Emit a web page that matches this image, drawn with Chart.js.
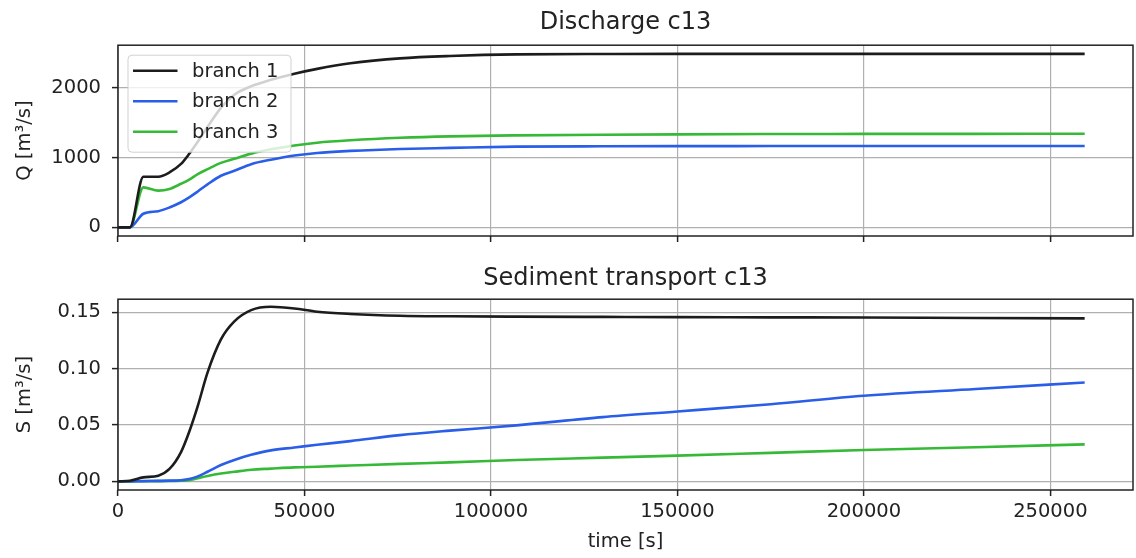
<!DOCTYPE html>
<html>
<head>
<meta charset="utf-8">
<title>Discharge and sediment transport c13</title>
<script src="https://cdn.jsdelivr.net/npm/chart.js@4.4.1/dist/chart.umd.min.js"></script>
<style>
  body { margin: 0; background: #fff; }
  canvas { position: absolute; left: 0; }
  #discharge { top: 0; }
  #sediment { top: 250px; }
</style>
</head>
<body>
<canvas id="discharge" width="1136" height="250"></canvas>
<canvas id="sediment" width="1136" height="308"></canvas>
<script>
// time axis [s], shared by both panels
const times = [0, 3200, 6800, 10800, 13800, 16900, 19100, 21400, 24000, 27600, 31200, 35700,
  41000, 47300, 53400, 62300, 75600, 89000, 106800, 130000, 150000, 175000, 200000, 230000, 259200];

const branchLabels = ['branch 1', 'branch 2', 'branch 3'];
const branchColors = ['#1c1c1c', '#2a5ee8', '#36b936'];

// discharge Q [m3/s]
const q1 = [0, 0, 726, 726, 788, 910, 1055, 1230, 1440, 1714, 1904, 2025,
  2118, 2205, 2275, 2355, 2426, 2460, 2483, 2488, 2490, 2490, 2490, 2490, 2490];
const q2 = [0, 0, 195, 232, 285, 360, 430, 515, 617, 740, 812, 907,
  970, 1030, 1068, 1097, 1125, 1140, 1158, 1163, 1165, 1167, 1168, 1168, 1168];
const q3 = [0, 0, 574, 527, 550, 625, 685, 765, 835, 925, 985, 1058,
  1120, 1175, 1215, 1250, 1285, 1306, 1320, 1330, 1335, 1339, 1341, 1342, 1343];

// sediment transport S [m3/s]
const s1 = [0, 0.0005, 0.0035, 0.005, 0.011, 0.026, 0.044, 0.067, 0.0965, 0.126, 0.142, 0.152,
  0.155, 0.1535, 0.1506, 0.1486, 0.147, 0.1465, 0.1462, 0.146, 0.1458, 0.1456, 0.1454, 0.145, 0.1447];
const s2 = [0, 0, 0.0002, 0.0004, 0.0006, 0.001, 0.002, 0.0044, 0.0085, 0.0145, 0.019, 0.0235,
  0.0275, 0.030, 0.0325, 0.0357, 0.041, 0.045, 0.0497, 0.057, 0.062, 0.0685, 0.076, 0.082, 0.0877];
const s3 = [0, 0, 0.0001, 0.0002, 0.0003, 0.0006, 0.001, 0.0028, 0.0048, 0.007, 0.0085, 0.0103,
  0.0113, 0.0124, 0.013, 0.014, 0.0155, 0.0168, 0.019, 0.021, 0.0228, 0.0253, 0.0278, 0.0303, 0.0328];

// tick values
const xTickValues = [0, 50000, 100000, 150000, 200000, 250000];
const qTickValues = [0, 1000, 2000];
const sTickValues = [0, 0.05, 0.10, 0.15];

Chart.defaults.font.family = "'DejaVu Sans'";
Chart.defaults.font.size = 19.5;
Chart.defaults.color = '#222';

// border round the plot area (all four sides, like matplotlib spines)
const frame = {
  id: 'frame',
  afterDatasetsDraw(chart) {
    const a = chart.chartArea, ctx = chart.ctx;
    ctx.save();
    ctx.strokeStyle = '#222';
    ctx.lineWidth = 1.5;
    ctx.strokeRect(a.left, a.top, a.right - a.left, a.bottom - a.top);
    ctx.restore();
  }
};

// legend box drawn inside the plot area, upper left
const innerLegend = {
  id: 'innerLegend',
  afterDatasetsDraw(chart, args, opts) {
    if (!opts.show) return;
    const a = chart.chartArea, ctx = chart.ctx;
    const x = a.left + 10, y = a.top + 10, w = 163, h = 97;
    ctx.save();
    ctx.beginPath();
    ctx.roundRect(x, y, w, h, 4);
    ctx.fillStyle = 'rgba(255,255,255,0.8)';
    ctx.fill();
    ctx.strokeStyle = 'rgba(204,204,204,0.9)';
    ctx.lineWidth = 1;
    ctx.stroke();
    ctx.font = "19.5px 'DejaVu Sans'";
    ctx.textBaseline = 'middle';
    chart.data.datasets.forEach((ds, i) => {
      const ry = y + 15.5 + i * 30.5;
      ctx.strokeStyle = ds.borderColor;
      ctx.lineWidth = 2.6;
      ctx.beginPath();
      ctx.moveTo(x + 5, ry);
      ctx.lineTo(x + 49.5, ry);
      ctx.stroke();
      ctx.fillStyle = '#222';
      ctx.fillText(ds.label, x + 64, ry + 1);
    });
    ctx.restore();
  }
};

function makeDatasets(series) {
  return series.map((vals, i) => ({
    label: branchLabels[i],
    data: times.map((t, k) => ({ x: t, y: vals[k] })),
    borderColor: branchColors[i],
    borderWidth: 2.6,
    pointRadius: 0,
    cubicInterpolationMode: 'monotone',
    fill: false
  }));
}

const gridStyle = {
  color: '#b0b0b0',
  lineWidth: 1.2,
  tickColor: '#222',
  tickWidth: 1.5,
  tickLength: 6,
  drawTicks: true
};

function panel(canvasId, cfg) {
  return new Chart(document.getElementById(canvasId), {
    type: 'line',
    data: { datasets: makeDatasets(cfg.series) },
    options: {
      responsive: false,
      animation: false,
      devicePixelRatio: 1,
      layout: { padding: { left: 0, right: 3, top: 0, bottom: 0 } },
      plugins: {
        legend: { display: false },
        tooltip: { enabled: false },
        title: {
          display: true,
          text: cfg.title,
          fullSize: false,
          font: { size: 24, weight: 'normal' },
          color: '#222',
          padding: cfg.titlePad
        },
        innerLegend: { show: cfg.legend }
      },
      scales: {
        x: {
          type: 'linear',
          min: 0,
          max: 272160,
          grid: gridStyle,
          border: { display: false },
          afterBuildTicks: s => { s.ticks = xTickValues.map(v => ({ value: v })); },
          afterFit: s => { s.height = cfg.xHeight; },
          ticks: {
            display: cfg.xLabels,
            maxRotation: 0,
            padding: 4,
            callback: v => String(v)
          },
          title: {
            display: cfg.xLabels,
            text: 'time [s]',
            padding: { top: 0, bottom: 4 }
          }
        },
        y: {
          min: cfg.yMin,
          max: cfg.yMax,
          grid: gridStyle,
          border: { display: false },
          afterBuildTicks: s => { s.ticks = cfg.yTicks.map(v => ({ value: v })); },
          afterFit: s => { s.width = 118; s.paddingTop = 0; s.paddingBottom = 0; },
          ticks: {
            padding: 11,
            callback: cfg.yFormat
          },
          title: {
            display: true,
            text: cfg.yTitle,
            padding: { top: 13, bottom: 0 }
          }
        }
      }
    },
    plugins: [frame, innerLegend]
  });
}

panel('discharge', {
  series: [q1, q2, q3],
  title: 'Discharge c13',
  titlePad: { top: 8, bottom: 8.4 },
  legend: true,
  xLabels: false,
  xHeight: 14,
  yMin: -124.5,
  yMax: 2614.5,
  yTicks: qTickValues,
  yFormat: v => String(v),
  yTitle: 'Q [m³/s]'
});

panel('sediment', {
  series: [s1, s2, s3],
  title: 'Sediment transport c13',
  titlePad: { top: 14, bottom: 6.4 },
  legend: false,
  xLabels: true,
  xHeight: 68,
  yMin: -0.0077,
  yMax: 0.1617,
  yTicks: sTickValues,
  yFormat: v => v.toFixed(2),
  yTitle: 'S [m³/s]'
});
</script>
</body>
</html>
